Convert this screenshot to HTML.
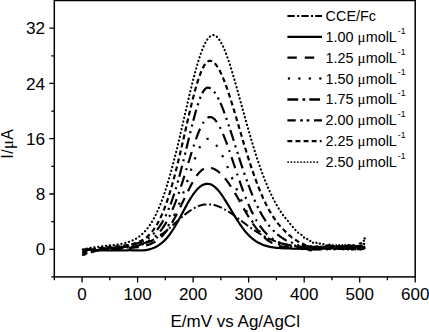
<!DOCTYPE html><html><head><meta charset="utf-8"><style>html,body{margin:0;padding:0;background:#fff}body{width:429px;height:332px;overflow:hidden;position:relative;font-family:"Liberation Sans",sans-serif}</style></head><body>
<svg width="429" height="332" viewBox="0 0 429 332" style="position:absolute;left:0;top:0">
<rect width="429" height="332" fill="#fff"/>
<path d="M82.1 249.6 L83.1 249.5 L84.1 249.4 L85.1 249.3 L86.1 249.3 L87.1 249.2 L88.1 249.2 L89.1 249.1 L90.1 249.1 L91.1 249.0 L92.1 249.0 L93.1 249.0 L94.1 249.0 L95.1 248.9 L96.1 248.9 L97.1 248.9 L98.1 248.9 L99.1 248.8 L100.1 248.8 L101.1 248.8 L102.1 248.8 L103.1 248.8 L104.1 248.8 L105.1 248.7 L106.1 248.7 L107.1 248.7 L108.1 248.7 L109.1 248.6 L110.1 248.6 L111.1 248.6 L112.1 248.5 L113.1 248.5 L114.1 248.5 L115.1 248.4 L116.1 248.4 L117.1 248.3 L118.1 248.2 L119.1 248.2 L120.1 248.1 L121.1 248.0 L122.1 247.9 L123.1 247.9 L124.1 247.8 L125.1 247.7 L126.1 247.6 L127.1 247.5 L128.1 247.3 L129.1 247.2 L130.1 247.1 L131.1 246.9 L132.1 246.8 L133.1 246.6 L134.1 246.5 L135.1 246.3 L136.1 246.1 L137.1 245.8 L138.1 245.6 L139.1 245.4 L140.1 245.1 L141.1 244.8 L142.1 244.5 L143.1 244.2 L144.1 243.9 L145.1 243.5 L146.1 243.2 L147.1 242.8 L148.1 242.3 L149.1 241.9 L150.1 241.4 L151.1 241.0 L152.1 240.5 L153.1 239.9 L154.1 239.4 L155.1 238.8 L156.1 238.2 L157.1 237.6 L158.1 236.9 L159.1 236.3 L160.1 235.6 L161.1 234.9 L162.1 234.1 L163.1 233.4 L164.1 232.6 L165.1 231.8 L166.1 231.0 L167.1 230.2 L168.1 229.3 L169.1 228.5 L170.1 227.6 L171.1 226.7 L172.1 225.8 L173.1 224.9 L174.1 224.0 L175.1 223.1 L176.1 222.2 L177.1 221.3 L178.1 220.4 L179.1 219.5 L180.1 218.6 L181.1 217.8 L182.1 216.9 L183.1 216.0 L184.1 215.2 L185.1 214.4 L186.1 213.6 L187.1 212.8 L188.1 212.1 L189.1 211.3 L190.1 210.7 L191.1 210.0 L192.1 209.4 L193.1 208.7 L194.1 208.2 L195.1 207.6 L196.1 207.1 L197.1 206.7 L198.1 206.3 L199.1 205.9 L200.1 205.5 L201.1 205.2 L202.1 205.0 L203.1 204.8 L204.1 204.6 L205.1 204.5 L206.1 204.4 L207.1 204.3 L208.1 204.3 L209.1 204.3 L210.1 204.4 L211.1 204.5 L212.1 204.6 L213.1 204.8 L214.1 205.0 L215.1 205.3 L216.1 205.6 L217.1 205.9 L218.1 206.3 L219.1 206.6 L220.1 207.1 L221.1 207.5 L222.1 208.0 L223.1 208.5 L224.1 209.0 L225.1 209.6 L226.1 210.1 L227.1 210.7 L228.1 211.4 L229.1 212.0 L230.1 212.7 L231.1 213.3 L232.1 214.0 L233.1 214.7 L234.1 215.4 L235.1 216.2 L236.1 216.9 L237.1 217.6 L238.1 218.4 L239.1 219.1 L240.1 219.9 L241.1 220.6 L242.1 221.4 L243.1 222.2 L244.1 222.9 L245.1 223.7 L246.1 224.4 L247.1 225.2 L248.1 225.9 L249.1 226.6 L250.1 227.3 L251.1 228.1 L252.1 228.8 L253.1 229.4 L254.1 230.1 L255.1 230.8 L256.1 231.4 L257.1 232.1 L258.1 232.7 L259.1 233.3 L260.1 233.9 L261.1 234.5 L262.1 235.1 L263.1 235.6 L264.1 236.2 L265.1 236.7 L266.1 237.2 L267.1 237.7 L268.1 238.2 L269.1 238.6 L270.1 239.1 L271.1 239.5 L272.1 239.9 L273.1 240.3 L274.1 240.7 L275.1 241.1 L276.1 241.4 L277.1 241.8 L278.1 242.1 L279.1 242.4 L280.1 242.7 L281.1 243.0 L282.1 243.3 L283.1 243.5 L284.1 243.8 L285.1 244.0 L286.1 244.3 L287.1 244.4 L288.1 244.7 L289.1 244.9 L290.1 245.1 L291.1 245.2 L292.1 245.6 L293.1 245.6 L294.1 245.7 L295.1 245.5 L296.1 245.7 L297.1 246.3 L298.1 246.1 L299.1 246.3 L300.1 246.5 L301.1 246.7 L302.1 247.1 L303.1 246.9 L304.1 247.8 L305.1 248.0 L306.1 248.2 L307.1 248.2 L308.1 247.6 L309.1 248.2 L310.1 247.5 L311.1 247.4 L312.1 249.0 L313.1 247.3 L314.1 248.5 L315.1 247.5 L316.1 247.6 L317.1 247.4 L318.1 248.7 L319.1 247.7 L320.1 248.6 L321.1 247.9 L322.1 247.2 L323.1 247.5 L324.1 248.0 L325.1 247.0 L326.1 248.4 L327.1 247.1 L328.1 247.3 L329.1 248.0 L330.1 247.6 L331.1 247.3 L332.1 248.3 L333.1 248.2 L334.1 246.6 L335.1 248.3 L336.1 246.6 L337.1 246.6 L338.1 247.2 L339.1 246.7 L340.1 247.8 L341.1 248.2 L342.1 246.7 L343.1 248.1 L344.1 248.5 L345.1 247.1 L346.1 248.6 L347.1 247.9 L348.1 247.4 L349.1 248.1 L350.1 247.1 L351.1 247.2 L352.1 247.4 L353.1 248.1 L354.1 247.9 L355.1 248.2 L356.1 248.0 L357.1 248.1 L358.1 247.3 L359.1 247.6 L360.1 247.9 L361.1 247.2 L362.1 246.9 L363.1 248.1 L364.1 247.0 L365.1 247.6" fill="none" stroke="#000" stroke-width="2.0" stroke-dasharray="8.7 2.8 1.9 2.6" stroke-dashoffset="15.33" stroke-linejoin="round"/>
<path d="M82.1 250.0 L83.1 250.0 L84.1 250.0 L85.1 250.0 L86.1 250.0 L87.1 250.0 L88.1 250.0 L89.1 250.0 L90.1 250.0 L91.1 250.0 L92.1 250.0 L93.1 250.1 L94.1 250.1 L95.1 250.1 L96.1 250.1 L97.1 250.2 L98.1 250.2 L99.1 250.2 L100.1 250.2 L101.1 250.3 L102.1 250.3 L103.1 250.3 L104.1 250.4 L105.1 250.4 L106.1 250.4 L107.1 250.4 L108.1 250.4 L109.1 250.5 L110.1 250.5 L111.1 250.5 L112.1 250.5 L113.1 250.5 L114.1 250.5 L115.1 250.5 L116.1 250.5 L117.1 250.5 L118.1 250.5 L119.1 250.4 L120.1 250.4 L121.1 250.4 L122.1 250.4 L123.1 250.4 L124.1 250.3 L125.1 250.3 L126.1 250.3 L127.1 250.3 L128.1 250.3 L129.1 250.2 L130.1 250.2 L131.1 250.2 L132.1 250.3 L133.1 250.3 L134.1 250.3 L135.1 250.3 L136.1 250.4 L137.1 250.4 L138.1 250.4 L139.1 250.4 L140.1 250.5 L141.1 250.4 L142.1 250.4 L143.1 250.4 L144.1 250.3 L145.1 250.2 L146.1 250.1 L147.1 249.9 L148.1 249.7 L149.1 249.4 L150.1 249.2 L151.1 248.8 L152.1 248.5 L153.1 248.1 L154.1 247.7 L155.1 247.2 L156.1 246.7 L157.1 246.2 L158.1 245.6 L159.1 244.9 L160.1 244.2 L161.1 243.5 L162.1 242.7 L163.1 241.8 L164.1 240.9 L165.1 239.9 L166.1 238.9 L167.1 237.7 L168.1 236.5 L169.1 235.3 L170.1 233.9 L171.1 232.5 L172.1 231.0 L173.1 229.5 L174.1 227.9 L175.1 226.2 L176.1 224.5 L177.1 222.8 L178.1 221.0 L179.1 219.2 L180.1 217.3 L181.1 215.4 L182.1 213.6 L183.1 211.7 L184.1 209.8 L185.1 207.9 L186.1 206.1 L187.1 204.3 L188.1 202.5 L189.1 200.8 L190.1 199.1 L191.1 197.5 L192.1 196.0 L193.1 194.5 L194.1 193.1 L195.1 191.8 L196.1 190.6 L197.1 189.4 L198.1 188.4 L199.1 187.5 L200.1 186.7 L201.1 185.9 L202.1 185.3 L203.1 184.8 L204.1 184.4 L205.1 184.1 L206.1 183.9 L207.1 183.8 L208.1 183.8 L209.1 184.0 L210.1 184.2 L211.1 184.6 L212.1 185.1 L213.1 185.7 L214.1 186.4 L215.1 187.2 L216.1 188.1 L217.1 189.1 L218.1 190.2 L219.1 191.4 L220.1 192.7 L221.1 194.1 L222.1 195.5 L223.1 197.0 L224.1 198.5 L225.1 200.1 L226.1 201.7 L227.1 203.3 L228.1 205.0 L229.1 206.7 L230.1 208.3 L231.1 210.0 L232.1 211.7 L233.1 213.4 L234.1 215.1 L235.1 216.7 L236.1 218.3 L237.1 219.9 L238.1 221.5 L239.1 223.0 L240.1 224.5 L241.1 225.9 L242.1 227.3 L243.1 228.7 L244.1 230.0 L245.1 231.2 L246.1 232.4 L247.1 233.5 L248.1 234.6 L249.1 235.6 L250.1 236.6 L251.1 237.5 L252.1 238.4 L253.1 239.2 L254.1 240.0 L255.1 240.7 L256.1 241.4 L257.1 242.0 L258.1 242.6 L259.1 243.1 L260.1 243.6 L261.1 244.1 L262.1 244.5 L263.1 244.9 L264.1 245.3 L265.1 245.6 L266.1 245.9 L267.1 246.2 L268.1 246.4 L269.1 246.7 L270.1 246.9 L271.1 247.1 L272.1 247.2 L273.1 247.4 L274.1 247.5 L275.1 247.6 L276.1 247.8 L277.1 247.9 L278.1 247.9 L279.1 248.0 L280.1 248.1 L281.1 248.2 L282.1 248.2 L283.1 248.3 L284.1 248.3 L285.1 248.3 L286.1 248.4 L287.1 248.4 L288.1 248.3 L289.1 248.3 L290.1 248.3 L291.1 248.6 L292.1 248.5 L293.1 248.7 L294.1 248.8 L295.1 248.5 L296.1 248.6 L297.1 248.3 L298.1 249.0 L299.1 248.3 L300.1 248.6 L301.1 248.8 L302.1 249.1 L303.1 248.7 L304.1 248.9 L305.1 248.7 L306.1 249.0 L307.1 249.3 L308.1 248.6 L309.1 250.1 L310.1 250.2 L311.1 250.4 L312.1 249.7 L313.1 249.0 L314.1 249.4 L315.1 249.7 L316.1 249.4 L317.1 249.5 L318.1 249.0 L319.1 249.7 L320.1 249.0 L321.1 249.5 L322.1 248.5 L323.1 248.7 L324.1 248.5 L325.1 248.4 L326.1 249.0 L327.1 249.4 L328.1 248.8 L329.1 248.7 L330.1 249.1 L331.1 248.4 L332.1 248.0 L333.1 248.0 L334.1 249.3 L335.1 249.2 L336.1 248.6 L337.1 248.3 L338.1 249.0 L339.1 248.7 L340.1 248.8 L341.1 248.9 L342.1 249.0 L343.1 249.3 L344.1 248.5 L345.1 248.8 L346.1 248.9 L347.1 248.7 L348.1 249.5 L349.1 248.2 L350.1 248.8 L351.1 247.9 L352.1 249.6 L353.1 249.5 L354.1 248.1 L355.1 249.4 L356.1 247.9 L357.1 248.1 L358.1 249.4 L359.1 248.7 L360.1 249.3 L361.1 249.3 L362.1 248.9 L363.1 249.0 L364.1 247.8 L365.1 249.0" fill="none" stroke="#000" stroke-width="2.2" stroke-linejoin="round"/>
<path d="M82.1 252.9 L83.1 252.6 L84.1 252.4 L85.1 252.1 L86.1 251.9 L87.1 251.7 L88.1 251.6 L89.1 251.4 L90.1 251.2 L91.1 251.1 L92.1 250.9 L93.1 250.8 L94.1 250.7 L95.1 250.6 L96.1 250.5 L97.1 250.4 L98.1 250.3 L99.1 250.2 L100.1 250.1 L101.1 250.0 L102.1 249.9 L103.1 249.8 L104.1 249.8 L105.1 249.7 L106.1 249.6 L107.1 249.6 L108.1 249.5 L109.1 249.4 L110.1 249.4 L111.1 249.3 L112.1 249.2 L113.1 249.2 L114.1 249.1 L115.1 249.1 L116.1 249.0 L117.1 248.9 L118.1 248.9 L119.1 248.8 L120.1 248.7 L121.1 248.6 L122.1 248.6 L123.1 248.5 L124.1 248.4 L125.1 248.4 L126.1 248.3 L127.1 248.2 L128.1 248.1 L129.1 248.0 L130.1 248.0 L131.1 247.9 L132.1 247.8 L133.1 247.7 L134.1 247.6 L135.1 247.5 L136.1 247.4 L137.1 247.2 L138.1 247.1 L139.1 247.0 L140.1 246.8 L141.1 246.6 L142.1 246.5 L143.1 246.3 L144.1 246.0 L145.1 245.8 L146.1 245.5 L147.1 245.2 L148.1 244.9 L149.1 244.6 L150.1 244.2 L151.1 243.8 L152.1 243.3 L153.1 242.8 L154.1 242.3 L155.1 241.7 L156.1 241.1 L157.1 240.4 L158.1 239.7 L159.1 238.9 L160.1 238.0 L161.1 237.1 L162.1 236.1 L163.1 235.0 L164.1 233.9 L165.1 232.7 L166.1 231.5 L167.1 230.2 L168.1 228.8 L169.1 227.3 L170.1 225.8 L171.1 224.2 L172.1 222.6 L173.1 220.8 L174.1 219.1 L175.1 217.2 L176.1 215.4 L177.1 213.4 L178.1 211.5 L179.1 209.5 L180.1 207.4 L181.1 205.4 L182.1 203.3 L183.1 201.2 L184.1 199.1 L185.1 197.0 L186.1 194.9 L187.1 192.9 L188.1 190.9 L189.1 188.9 L190.1 186.9 L191.1 185.0 L192.1 183.2 L193.1 181.4 L194.1 179.8 L195.1 178.2 L196.1 176.7 L197.1 175.2 L198.1 173.9 L199.1 172.7 L200.1 171.7 L201.1 170.7 L202.1 169.9 L203.1 169.2 L204.1 168.6 L205.1 168.1 L206.1 167.8 L207.1 167.7 L208.1 167.6 L209.1 167.7 L210.1 167.8 L211.1 168.0 L212.1 168.3 L213.1 168.6 L214.1 169.0 L215.1 169.5 L216.1 170.1 L217.1 170.7 L218.1 171.5 L219.1 172.3 L220.1 173.1 L221.1 174.1 L222.1 175.1 L223.1 176.1 L224.1 177.3 L225.1 178.5 L226.1 179.7 L227.1 181.1 L228.1 182.4 L229.1 183.9 L230.1 185.4 L231.1 186.9 L232.1 188.5 L233.1 190.1 L234.1 191.7 L235.1 193.4 L236.1 195.1 L237.1 196.8 L238.1 198.5 L239.1 200.3 L240.1 202.1 L241.1 203.8 L242.1 205.6 L243.1 207.4 L244.1 209.1 L245.1 210.9 L246.1 212.6 L247.1 214.3 L248.1 216.0 L249.1 217.6 L250.1 219.2 L251.1 220.8 L252.1 222.4 L253.1 223.9 L254.1 225.3 L255.1 226.7 L256.1 228.1 L257.1 229.4 L258.1 230.7 L259.1 231.9 L260.1 233.1 L261.1 234.2 L262.1 235.3 L263.1 236.3 L264.1 237.2 L265.1 238.1 L266.1 239.0 L267.1 239.8 L268.1 240.5 L269.1 241.2 L270.1 241.8 L271.1 242.4 L272.1 243.0 L273.1 243.5 L274.1 244.0 L275.1 244.4 L276.1 244.8 L277.1 245.2 L278.1 245.5 L279.1 245.8 L280.1 246.1 L281.1 246.3 L282.1 246.5 L283.1 246.7 L284.1 246.8 L285.1 247.0 L286.1 247.0 L287.1 247.0 L288.1 247.2 L289.1 247.2 L290.1 247.1 L291.1 247.3 L292.1 247.2 L293.1 246.8 L294.1 247.3 L295.1 247.2 L296.1 247.4 L297.1 246.9 L298.1 247.6 L299.1 247.4 L300.1 247.0 L301.1 247.3 L302.1 246.7 L303.1 247.1 L304.1 247.7 L305.1 247.2 L306.1 247.2 L307.1 248.2 L308.1 248.2 L309.1 247.8 L310.1 247.4 L311.1 248.1 L312.1 248.3 L313.1 246.8 L314.1 246.9 L315.1 246.7 L316.1 246.9 L317.1 247.3 L318.1 247.1 L319.1 246.8 L320.1 247.9 L321.1 246.7 L322.1 247.7 L323.1 246.5 L324.1 247.4 L325.1 246.9 L326.1 247.1 L327.1 247.1 L328.1 246.4 L329.1 246.9 L330.1 246.3 L331.1 247.4 L332.1 246.1 L333.1 247.4 L334.1 246.2 L335.1 247.0 L336.1 245.7 L337.1 246.0 L338.1 246.2 L339.1 247.2 L340.1 247.1 L341.1 246.6 L342.1 247.3 L343.1 247.4 L344.1 246.2 L345.1 246.3 L346.1 245.9 L347.1 246.8 L348.1 245.9 L349.1 247.5 L350.1 246.6 L351.1 246.2 L352.1 247.5 L353.1 247.3 L354.1 246.9 L355.1 247.0 L356.1 246.0 L357.1 246.6 L358.1 246.0 L359.1 246.7 L360.1 245.8 L361.1 246.6 L362.1 246.1 L363.1 246.2 L364.1 247.1 L365.1 246.2" fill="none" stroke="#000" stroke-width="2.2" stroke-dasharray="10.3 7.4" stroke-dashoffset="6.30" stroke-linejoin="round"/>
<path d="M82.1 252.0 L83.1 251.7 L84.1 251.5 L85.1 251.2 L86.1 251.0 L87.1 250.8 L88.1 250.6 L89.1 250.4 L90.1 250.2 L91.1 250.0 L92.1 249.8 L93.1 249.7 L94.1 249.5 L95.1 249.4 L96.1 249.2 L97.1 249.1 L98.1 249.0 L99.1 248.8 L100.1 248.7 L101.1 248.6 L102.1 248.5 L103.1 248.4 L104.1 248.3 L105.1 248.2 L106.1 248.1 L107.1 248.1 L108.1 248.0 L109.1 247.9 L110.1 247.8 L111.1 247.8 L112.1 247.7 L113.1 247.6 L114.1 247.5 L115.1 247.5 L116.1 247.4 L117.1 247.3 L118.1 247.3 L119.1 247.2 L120.1 247.2 L121.1 247.1 L122.1 247.0 L123.1 246.9 L124.1 246.9 L125.1 246.8 L126.1 246.7 L127.1 246.6 L128.1 246.5 L129.1 246.4 L130.1 246.3 L131.1 246.2 L132.1 246.0 L133.1 245.9 L134.1 245.8 L135.1 245.7 L136.1 245.5 L137.1 245.4 L138.1 245.2 L139.1 245.0 L140.1 244.8 L141.1 244.6 L142.1 244.4 L143.1 244.2 L144.1 243.9 L145.1 243.6 L146.1 243.3 L147.1 243.0 L148.1 242.6 L149.1 242.3 L150.1 241.8 L151.1 241.4 L152.1 240.9 L153.1 240.4 L154.1 239.8 L155.1 239.2 L156.1 238.5 L157.1 237.8 L158.1 237.1 L159.1 236.3 L160.1 235.4 L161.1 234.5 L162.1 233.5 L163.1 232.4 L164.1 231.3 L165.1 230.0 L166.1 228.8 L167.1 227.4 L168.1 225.9 L169.1 224.4 L170.1 222.8 L171.1 221.1 L172.1 219.3 L173.1 217.4 L174.1 215.4 L175.1 213.3 L176.1 211.1 L177.1 208.8 L178.1 206.5 L179.1 204.0 L180.1 201.5 L181.1 198.9 L182.1 196.2 L183.1 193.4 L184.1 190.6 L185.1 187.7 L186.1 184.8 L187.1 181.8 L188.1 178.8 L189.1 175.8 L190.1 172.8 L191.1 169.8 L192.1 166.8 L193.1 163.9 L194.1 161.1 L195.1 158.3 L196.1 155.7 L197.1 153.1 L198.1 150.8 L199.1 148.5 L200.1 146.5 L201.1 144.6 L202.1 143.0 L203.1 141.6 L204.1 140.5 L205.1 139.7 L206.1 139.1 L207.1 138.8 L208.1 138.8 L209.1 139.0 L210.1 139.4 L211.1 139.9 L212.1 140.6 L213.1 141.4 L214.1 142.4 L215.1 143.6 L216.1 144.8 L217.1 146.2 L218.1 147.8 L219.1 149.4 L220.1 151.2 L221.1 153.1 L222.1 155.0 L223.1 157.1 L224.1 159.2 L225.1 161.4 L226.1 163.7 L227.1 166.0 L228.1 168.4 L229.1 170.8 L230.1 173.2 L231.1 175.6 L232.1 178.1 L233.1 180.6 L234.1 183.0 L235.1 185.5 L236.1 187.9 L237.1 190.4 L238.1 192.8 L239.1 195.1 L240.1 197.5 L241.1 199.7 L242.1 202.0 L243.1 204.2 L244.1 206.3 L245.1 208.4 L246.1 210.4 L247.1 212.4 L248.1 214.3 L249.1 216.1 L250.1 217.9 L251.1 219.6 L252.1 221.2 L253.1 222.8 L254.1 224.3 L255.1 225.8 L256.1 227.2 L257.1 228.5 L258.1 229.7 L259.1 230.9 L260.1 232.0 L261.1 233.1 L262.1 234.1 L263.1 235.1 L264.1 236.0 L265.1 236.8 L266.1 237.6 L267.1 238.4 L268.1 239.1 L269.1 239.8 L270.1 240.4 L271.1 241.0 L272.1 241.5 L273.1 242.0 L274.1 242.5 L275.1 242.9 L276.1 243.3 L277.1 243.7 L278.1 244.0 L279.1 244.4 L280.1 244.7 L281.1 244.9 L282.1 245.2 L283.1 245.4 L284.1 245.7 L285.1 245.9 L286.1 246.1 L287.1 246.1 L288.1 246.3 L289.1 246.4 L290.1 246.4 L291.1 246.5 L292.1 246.9 L293.1 246.8 L294.1 247.1 L295.1 247.3 L296.1 247.1 L297.1 247.4 L298.1 246.9 L299.1 247.7 L300.1 247.1 L301.1 248.0 L302.1 247.7 L303.1 248.4 L304.1 248.1 L305.1 248.0 L306.1 247.5 L307.1 247.5 L308.1 248.7 L309.1 248.4 L310.1 247.8 L311.1 248.0 L312.1 248.6 L313.1 248.4 L314.1 248.5 L315.1 248.5 L316.1 249.0 L317.1 247.5 L318.1 248.9 L319.1 248.5 L320.1 249.0 L321.1 247.5 L322.1 247.2 L323.1 247.6 L324.1 247.4 L325.1 247.9 L326.1 247.4 L327.1 246.8 L328.1 247.2 L329.1 248.4 L330.1 248.3 L331.1 247.8 L332.1 247.1 L333.1 246.8 L334.1 248.0 L335.1 246.7 L336.1 246.9 L337.1 247.5 L338.1 246.8 L339.1 247.3 L340.1 246.6 L341.1 247.1 L342.1 247.9 L343.1 248.1 L344.1 248.1 L345.1 247.8 L346.1 248.4 L347.1 246.8 L348.1 247.0 L349.1 247.2 L350.1 248.2 L351.1 248.2 L352.1 247.8 L353.1 247.4 L354.1 247.4 L355.1 248.4 L356.1 247.8 L357.1 247.0 L358.1 246.6 L359.1 246.7 L360.1 246.6 L361.1 247.2 L362.1 246.9 L363.1 247.6 L364.1 246.4 L365.1 246.9" fill="none" stroke="#000" stroke-width="2.2" stroke-dasharray="2.3 9.7" stroke-dashoffset="2.76" stroke-linejoin="round"/>
<path d="M82.1 255.6 L83.1 255.1 L84.1 254.7 L85.1 254.3 L86.1 253.9 L87.1 253.5 L88.1 253.2 L89.1 252.8 L90.1 252.5 L91.1 252.2 L92.1 251.9 L93.1 251.6 L94.1 251.4 L95.1 251.1 L96.1 250.9 L97.1 250.6 L98.1 250.4 L99.1 250.2 L100.1 250.0 L101.1 249.8 L102.1 249.7 L103.1 249.5 L104.1 249.3 L105.1 249.2 L106.1 249.0 L107.1 248.9 L108.1 248.7 L109.1 248.6 L110.1 248.5 L111.1 248.4 L112.1 248.2 L113.1 248.1 L114.1 248.0 L115.1 247.9 L116.1 247.8 L117.1 247.7 L118.1 247.6 L119.1 247.5 L120.1 247.4 L121.1 247.3 L122.1 247.2 L123.1 247.1 L124.1 247.0 L125.1 246.9 L126.1 246.8 L127.1 246.7 L128.1 246.6 L129.1 246.5 L130.1 246.3 L131.1 246.2 L132.1 246.0 L133.1 245.9 L134.1 245.7 L135.1 245.5 L136.1 245.3 L137.1 245.1 L138.1 244.9 L139.1 244.6 L140.1 244.4 L141.1 244.1 L142.1 243.8 L143.1 243.5 L144.1 243.1 L145.1 242.7 L146.1 242.3 L147.1 241.8 L148.1 241.4 L149.1 240.8 L150.1 240.2 L151.1 239.6 L152.1 239.0 L153.1 238.2 L154.1 237.5 L155.1 236.6 L156.1 235.7 L157.1 234.8 L158.1 233.7 L159.1 232.6 L160.1 231.4 L161.1 230.2 L162.1 228.9 L163.1 227.4 L164.1 225.9 L165.1 224.3 L166.1 222.7 L167.1 220.9 L168.1 219.0 L169.1 217.1 L170.1 215.0 L171.1 212.8 L172.1 210.6 L173.1 208.2 L174.1 205.8 L175.1 203.2 L176.1 200.6 L177.1 197.9 L178.1 195.1 L179.1 192.2 L180.1 189.2 L181.1 186.2 L182.1 183.1 L183.1 180.0 L184.1 176.8 L185.1 173.6 L186.1 170.3 L187.1 167.0 L188.1 163.7 L189.1 160.5 L190.1 157.2 L191.1 154.0 L192.1 150.8 L193.1 147.7 L194.1 144.6 L195.1 141.7 L196.1 138.8 L197.1 136.1 L198.1 133.4 L199.1 131.0 L200.1 128.7 L201.1 126.5 L202.1 124.6 L203.1 122.8 L204.1 121.3 L205.1 120.0 L206.1 118.9 L207.1 118.1 L208.1 117.5 L209.1 117.1 L210.1 117.0 L211.1 117.2 L212.1 117.5 L213.1 118.1 L214.1 118.9 L215.1 119.9 L216.1 121.1 L217.1 122.5 L218.1 124.0 L219.1 125.7 L220.1 127.6 L221.1 129.7 L222.1 131.8 L223.1 134.2 L224.1 136.6 L225.1 139.1 L226.1 141.7 L227.1 144.4 L228.1 147.2 L229.1 150.1 L230.1 153.0 L231.1 155.9 L232.1 158.9 L233.1 161.9 L234.1 164.8 L235.1 167.8 L236.1 170.8 L237.1 173.8 L238.1 176.7 L239.1 179.6 L240.1 182.5 L241.1 185.3 L242.1 188.1 L243.1 190.8 L244.1 193.5 L245.1 196.1 L246.1 198.6 L247.1 201.1 L248.1 203.5 L249.1 205.8 L250.1 208.0 L251.1 210.2 L252.1 212.2 L253.1 214.2 L254.1 216.2 L255.1 218.0 L256.1 219.8 L257.1 221.4 L258.1 223.1 L259.1 224.6 L260.1 226.0 L261.1 227.4 L262.1 228.8 L263.1 230.0 L264.1 231.2 L265.1 232.3 L266.1 233.4 L267.1 234.4 L268.1 235.3 L269.1 236.2 L270.1 237.0 L271.1 237.8 L272.1 238.5 L273.1 239.2 L274.1 239.8 L275.1 240.4 L276.1 241.0 L277.1 241.5 L278.1 242.0 L279.1 242.5 L280.1 242.9 L281.1 243.3 L282.1 243.6 L283.1 244.0 L284.1 244.3 L285.1 244.6 L286.1 244.8 L287.1 244.9 L288.1 245.1 L289.1 245.2 L290.1 245.5 L291.1 245.3 L292.1 245.4 L293.1 245.4 L294.1 245.5 L295.1 246.0 L296.1 246.2 L297.1 245.9 L298.1 245.9 L299.1 245.9 L300.1 246.3 L301.1 245.7 L302.1 246.2 L303.1 245.9 L304.1 246.8 L305.1 246.6 L306.1 246.8 L307.1 246.2 L308.1 246.2 L309.1 247.2 L310.1 246.6 L311.1 246.7 L312.1 246.1 L313.1 247.2 L314.1 247.2 L315.1 247.2 L316.1 247.2 L317.1 246.2 L318.1 247.1 L319.1 246.5 L320.1 246.4 L321.1 245.4 L322.1 245.6 L323.1 246.5 L324.1 246.9 L325.1 246.5 L326.1 246.4 L327.1 246.3 L328.1 245.2 L329.1 246.0 L330.1 245.5 L331.1 246.4 L332.1 246.0 L333.1 245.6 L334.1 245.6 L335.1 245.0 L336.1 245.2 L337.1 245.8 L338.1 245.2 L339.1 245.4 L340.1 244.8 L341.1 245.3 L342.1 246.4 L343.1 246.1 L344.1 246.0 L345.1 246.1 L346.1 246.1 L347.1 246.1 L348.1 245.2 L349.1 245.6 L350.1 245.5 L351.1 245.6 L352.1 246.3 L353.1 245.2 L354.1 245.3 L355.1 246.5 L356.1 245.8 L357.1 245.4 L358.1 245.8 L359.1 245.1 L360.1 243.3 L361.1 243.4 L362.1 242.5 L363.1 240.9 L364.1 239.3 L365.1 237.4" fill="none" stroke="#000" stroke-width="2.2" stroke-dasharray="11.5 5.8 2 5.5" stroke-dashoffset="15.53" stroke-linejoin="round"/>
<path d="M82.1 255.2 L83.1 254.7 L84.1 254.3 L85.1 253.9 L86.1 253.5 L87.1 253.1 L88.1 252.8 L89.1 252.4 L90.1 252.1 L91.1 251.8 L92.1 251.5 L93.1 251.2 L94.1 251.0 L95.1 250.7 L96.1 250.5 L97.1 250.2 L98.1 250.0 L99.1 249.8 L100.1 249.6 L101.1 249.4 L102.1 249.2 L103.1 249.1 L104.1 248.9 L105.1 248.7 L106.1 248.6 L107.1 248.4 L108.1 248.3 L109.1 248.2 L110.1 248.0 L111.1 247.9 L112.1 247.8 L113.1 247.6 L114.1 247.5 L115.1 247.4 L116.1 247.3 L117.1 247.2 L118.1 247.0 L119.1 246.9 L120.1 246.8 L121.1 246.7 L122.1 246.5 L123.1 246.4 L124.1 246.2 L125.1 246.1 L126.1 245.9 L127.1 245.8 L128.1 245.6 L129.1 245.4 L130.1 245.2 L131.1 244.9 L132.1 244.7 L133.1 244.4 L134.1 244.2 L135.1 243.9 L136.1 243.6 L137.1 243.4 L138.1 243.0 L139.1 242.7 L140.1 242.3 L141.1 241.9 L142.1 241.5 L143.1 241.1 L144.1 240.6 L145.1 240.1 L146.1 239.5 L147.1 238.9 L148.1 238.2 L149.1 237.5 L150.1 236.8 L151.1 236.0 L152.1 235.1 L153.1 234.2 L154.1 233.2 L155.1 232.2 L156.1 231.0 L157.1 229.8 L158.1 228.5 L159.1 227.2 L160.1 225.7 L161.1 224.1 L162.1 222.5 L163.1 220.7 L164.1 218.9 L165.1 216.9 L166.1 214.9 L167.1 212.7 L168.1 210.4 L169.1 208.0 L170.1 205.4 L171.1 202.8 L172.1 200.0 L173.1 197.1 L174.1 194.1 L175.1 191.0 L176.1 187.7 L177.1 184.3 L178.1 180.9 L179.1 177.3 L180.1 173.6 L181.1 169.8 L182.1 166.0 L183.1 162.0 L184.1 158.0 L185.1 154.0 L186.1 149.9 L187.1 145.7 L188.1 141.6 L189.1 137.5 L190.1 133.4 L191.1 129.3 L192.1 125.3 L193.1 121.4 L194.1 117.6 L195.1 113.9 L196.1 110.3 L197.1 107.0 L198.1 103.8 L199.1 100.8 L200.1 98.1 L201.1 95.7 L202.1 93.5 L203.1 91.7 L204.1 90.2 L205.1 89.0 L206.1 88.2 L207.1 87.7 L208.1 87.6 L209.1 87.8 L210.1 88.2 L211.1 88.8 L212.1 89.6 L213.1 90.6 L214.1 91.7 L215.1 93.1 L216.1 94.6 L217.1 96.3 L218.1 98.1 L219.1 100.1 L220.1 102.3 L221.1 104.5 L222.1 106.9 L223.1 109.4 L224.1 112.1 L225.1 114.8 L226.1 117.5 L227.1 120.4 L228.1 123.4 L229.1 126.3 L230.1 129.4 L231.1 132.5 L232.1 135.6 L233.1 138.7 L234.1 141.9 L235.1 145.1 L236.1 148.2 L237.1 151.4 L238.1 154.5 L239.1 157.7 L240.1 160.8 L241.1 163.8 L242.1 166.9 L243.1 169.9 L244.1 172.8 L245.1 175.7 L246.1 178.6 L247.1 181.3 L248.1 184.1 L249.1 186.7 L250.1 189.3 L251.1 191.9 L252.1 194.4 L253.1 196.8 L254.1 199.1 L255.1 201.4 L256.1 203.5 L257.1 205.7 L258.1 207.7 L259.1 209.7 L260.1 211.6 L261.1 213.4 L262.1 215.2 L263.1 216.9 L264.1 218.5 L265.1 220.1 L266.1 221.6 L267.1 223.0 L268.1 224.4 L269.1 225.7 L270.1 226.9 L271.1 228.1 L272.1 229.2 L273.1 230.3 L274.1 231.3 L275.1 232.3 L276.1 233.2 L277.1 234.1 L278.1 235.0 L279.1 235.7 L280.1 236.5 L281.1 237.2 L282.1 237.9 L283.1 238.5 L284.1 239.2 L285.1 239.8 L286.1 240.4 L287.1 240.9 L288.1 241.3 L289.1 241.8 L290.1 242.4 L291.1 242.5 L292.1 242.7 L293.1 243.6 L294.1 243.6 L295.1 244.2 L296.1 244.4 L297.1 244.5 L298.1 245.2 L299.1 245.5 L300.1 244.8 L301.1 245.0 L302.1 246.2 L303.1 245.9 L304.1 245.5 L305.1 247.0 L306.1 246.8 L307.1 247.1 L308.1 246.3 L309.1 247.1 L310.1 246.5 L311.1 247.8 L312.1 247.0 L313.1 247.5 L314.1 247.2 L315.1 248.2 L316.1 248.0 L317.1 247.3 L318.1 248.1 L319.1 247.0 L320.1 247.6 L321.1 246.6 L322.1 246.6 L323.1 246.6 L324.1 247.0 L325.1 246.8 L326.1 246.4 L327.1 247.6 L328.1 246.8 L329.1 246.0 L330.1 247.3 L331.1 246.7 L332.1 246.0 L333.1 246.1 L334.1 246.6 L335.1 247.0 L336.1 246.7 L337.1 247.6 L338.1 246.9 L339.1 247.2 L340.1 246.5 L341.1 246.8 L342.1 246.1 L343.1 246.5 L344.1 246.1 L345.1 247.4 L346.1 247.5 L347.1 246.8 L348.1 247.0 L349.1 247.6 L350.1 247.0 L351.1 247.1 L352.1 247.8 L353.1 247.6 L354.1 246.5 L355.1 246.3 L356.1 246.9 L357.1 246.7 L358.1 247.1 L359.1 247.0 L360.1 247.0 L361.1 246.2 L362.1 246.2 L363.1 247.0 L364.1 247.2 L365.1 247.2" fill="none" stroke="#000" stroke-width="2.2" stroke-dasharray="11.4 4.6 2.2 4.7 2.2 3.8" stroke-dashoffset="5.64" stroke-linejoin="round"/>
<path d="M82.1 252.3 L83.1 252.0 L84.1 251.6 L85.1 251.3 L86.1 251.0 L87.1 250.8 L88.1 250.5 L89.1 250.3 L90.1 250.0 L91.1 249.8 L92.1 249.6 L93.1 249.4 L94.1 249.2 L95.1 249.0 L96.1 248.8 L97.1 248.7 L98.1 248.5 L99.1 248.3 L100.1 248.2 L101.1 248.1 L102.1 247.9 L103.1 247.8 L104.1 247.7 L105.1 247.5 L106.1 247.4 L107.1 247.3 L108.1 247.2 L109.1 247.1 L110.1 247.0 L111.1 246.9 L112.1 246.8 L113.1 246.7 L114.1 246.6 L115.1 246.5 L116.1 246.4 L117.1 246.3 L118.1 246.3 L119.1 246.2 L120.1 246.0 L121.1 245.9 L122.1 245.8 L123.1 245.7 L124.1 245.6 L125.1 245.4 L126.1 245.3 L127.1 245.1 L128.1 245.0 L129.1 244.8 L130.1 244.6 L131.1 244.4 L132.1 244.2 L133.1 243.9 L134.1 243.6 L135.1 243.3 L136.1 243.0 L137.1 242.6 L138.1 242.2 L139.1 241.8 L140.1 241.3 L141.1 240.8 L142.1 240.3 L143.1 239.7 L144.1 239.0 L145.1 238.3 L146.1 237.6 L147.1 236.8 L148.1 235.9 L149.1 234.9 L150.1 233.9 L151.1 232.8 L152.1 231.6 L153.1 230.3 L154.1 228.9 L155.1 227.4 L156.1 225.9 L157.1 224.2 L158.1 222.4 L159.1 220.5 L160.1 218.5 L161.1 216.4 L162.1 214.2 L163.1 211.8 L164.1 209.3 L165.1 206.7 L166.1 204.0 L167.1 201.1 L168.1 198.2 L169.1 195.1 L170.1 191.8 L171.1 188.5 L172.1 185.0 L173.1 181.4 L174.1 177.7 L175.1 173.9 L176.1 170.0 L177.1 166.0 L178.1 162.0 L179.1 157.8 L180.1 153.6 L181.1 149.3 L182.1 144.9 L183.1 140.6 L184.1 136.2 L185.1 131.8 L186.1 127.4 L187.1 123.0 L188.1 118.6 L189.1 114.3 L190.1 110.1 L191.1 105.9 L192.1 101.8 L193.1 97.9 L194.1 94.0 L195.1 90.3 L196.1 86.8 L197.1 83.4 L198.1 80.2 L199.1 77.2 L200.1 74.5 L201.1 71.9 L202.1 69.6 L203.1 67.5 L204.1 65.7 L205.1 64.2 L206.1 63.0 L207.1 62.0 L208.1 61.3 L209.1 60.9 L210.1 60.8 L211.1 61.0 L212.1 61.3 L213.1 61.9 L214.1 62.7 L215.1 63.7 L216.1 64.9 L217.1 66.3 L218.1 67.8 L219.1 69.5 L220.1 71.4 L221.1 73.5 L222.1 75.7 L223.1 78.1 L224.1 80.5 L225.1 83.1 L226.1 85.8 L227.1 88.7 L228.1 91.6 L229.1 94.6 L230.1 97.7 L231.1 100.8 L232.1 104.0 L233.1 107.3 L234.1 110.6 L235.1 113.9 L236.1 117.3 L237.1 120.7 L238.1 124.1 L239.1 127.5 L240.1 130.9 L241.1 134.3 L242.1 137.7 L243.1 141.1 L244.1 144.4 L245.1 147.7 L246.1 151.0 L247.1 154.2 L248.1 157.4 L249.1 160.5 L250.1 163.6 L251.1 166.6 L252.1 169.6 L253.1 172.5 L254.1 175.4 L255.1 178.2 L256.1 180.9 L257.1 183.6 L258.1 186.1 L259.1 188.7 L260.1 191.1 L261.1 193.5 L262.1 195.8 L263.1 198.1 L264.1 200.2 L265.1 202.3 L266.1 204.4 L267.1 206.3 L268.1 208.2 L269.1 210.1 L270.1 211.8 L271.1 213.5 L272.1 215.2 L273.1 216.7 L274.1 218.2 L275.1 219.7 L276.1 221.1 L277.1 222.4 L278.1 223.7 L279.1 224.9 L280.1 226.1 L281.1 227.2 L282.1 228.3 L283.1 229.3 L284.1 230.3 L285.1 231.2 L286.1 232.2 L287.1 233.2 L288.1 234.3 L289.1 235.2 L290.1 235.9 L291.1 236.8 L292.1 237.7 L293.1 238.5 L294.1 239.2 L295.1 239.8 L296.1 240.2 L297.1 240.7 L298.1 241.6 L299.1 242.4 L300.1 242.8 L301.1 243.4 L302.1 243.9 L303.1 243.8 L304.1 244.6 L305.1 244.9 L306.1 245.4 L307.1 245.2 L308.1 245.4 L309.1 246.0 L310.1 247.1 L311.1 246.4 L312.1 246.7 L313.1 248.0 L314.1 247.1 L315.1 247.7 L316.1 247.7 L317.1 247.0 L318.1 247.8 L319.1 247.9 L320.1 248.0 L321.1 247.7 L322.1 248.0 L323.1 247.2 L324.1 248.4 L325.1 247.2 L326.1 247.9 L327.1 248.2 L328.1 247.9 L329.1 248.6 L330.1 247.1 L331.1 248.1 L332.1 247.7 L333.1 247.6 L334.1 247.7 L335.1 248.5 L336.1 247.0 L337.1 247.7 L338.1 247.8 L339.1 247.4 L340.1 248.5 L341.1 248.2 L342.1 247.5 L343.1 248.0 L344.1 248.4 L345.1 247.4 L346.1 247.7 L347.1 248.3 L348.1 248.6 L349.1 247.5 L350.1 247.4 L351.1 248.0 L352.1 248.4 L353.1 248.7 L354.1 248.0 L355.1 248.8 L356.1 247.7 L357.1 247.8 L358.1 247.4 L359.1 247.9 L360.1 247.3 L361.1 246.1 L362.1 246.0 L363.1 245.5 L364.1 243.9 L365.1 244.2" fill="none" stroke="#000" stroke-width="2.2" stroke-dasharray="4.9 3.3" stroke-dashoffset="7.51" stroke-linejoin="round"/>
<path d="M82.1 249.6 L83.1 249.4 L84.1 249.1 L85.1 248.9 L86.1 248.7 L87.1 248.5 L88.1 248.3 L89.1 248.1 L90.1 247.9 L91.1 247.8 L92.1 247.6 L93.1 247.4 L94.1 247.3 L95.1 247.2 L96.1 247.0 L97.1 246.9 L98.1 246.8 L99.1 246.6 L100.1 246.5 L101.1 246.4 L102.1 246.3 L103.1 246.2 L104.1 246.1 L105.1 246.0 L106.1 245.9 L107.1 245.8 L108.1 245.6 L109.1 245.5 L110.1 245.4 L111.1 245.3 L112.1 245.2 L113.1 245.1 L114.1 245.0 L115.1 244.8 L116.1 244.7 L117.1 244.6 L118.1 244.4 L119.1 244.2 L120.1 244.1 L121.1 243.9 L122.1 243.7 L123.1 243.5 L124.1 243.2 L125.1 243.0 L126.1 242.7 L127.1 242.4 L128.1 242.1 L129.1 241.8 L130.1 241.4 L131.1 241.0 L132.1 240.6 L133.1 240.2 L134.1 239.7 L135.1 239.1 L136.1 238.6 L137.1 237.9 L138.1 237.3 L139.1 236.6 L140.1 235.8 L141.1 235.0 L142.1 234.1 L143.1 233.2 L144.1 232.2 L145.1 231.1 L146.1 230.0 L147.1 228.8 L148.1 227.5 L149.1 226.1 L150.1 224.7 L151.1 223.2 L152.1 221.5 L153.1 219.8 L154.1 218.0 L155.1 216.1 L156.1 214.1 L157.1 212.0 L158.1 209.8 L159.1 207.5 L160.1 205.1 L161.1 202.6 L162.1 199.9 L163.1 197.2 L164.1 194.3 L165.1 191.4 L166.1 188.3 L167.1 185.1 L168.1 181.8 L169.1 178.4 L170.1 175.0 L171.1 171.4 L172.1 167.7 L173.1 163.9 L174.1 160.1 L175.1 156.1 L176.1 152.1 L177.1 148.0 L178.1 143.9 L179.1 139.7 L180.1 135.4 L181.1 131.1 L182.1 126.8 L183.1 122.4 L184.1 118.1 L185.1 113.7 L186.1 109.4 L187.1 105.0 L188.1 100.7 L189.1 96.5 L190.1 92.3 L191.1 88.1 L192.1 84.1 L193.1 80.1 L194.1 76.2 L195.1 72.4 L196.1 68.8 L197.1 65.3 L198.1 61.9 L199.1 58.7 L200.1 55.7 L201.1 52.8 L202.1 50.1 L203.1 47.6 L204.1 45.3 L205.1 43.3 L206.1 41.4 L207.1 39.8 L208.1 38.4 L209.1 37.3 L210.1 36.4 L211.1 35.7 L212.1 35.3 L213.1 35.1 L214.1 35.2 L215.1 35.5 L216.1 36.1 L217.1 36.9 L218.1 38.0 L219.1 39.3 L220.1 40.8 L221.1 42.5 L222.1 44.4 L223.1 46.5 L224.1 48.7 L225.1 51.1 L226.1 53.7 L227.1 56.4 L228.1 59.3 L229.1 62.2 L230.1 65.3 L231.1 68.5 L232.1 71.7 L233.1 75.1 L234.1 78.5 L235.1 82.0 L236.1 85.5 L237.1 89.0 L238.1 92.6 L239.1 96.3 L240.1 99.9 L241.1 103.5 L242.1 107.2 L243.1 110.8 L244.1 114.5 L245.1 118.1 L246.1 121.7 L247.1 125.2 L248.1 128.7 L249.1 132.2 L250.1 135.7 L251.1 139.1 L252.1 142.4 L253.1 145.7 L254.1 149.0 L255.1 152.2 L256.1 155.3 L257.1 158.4 L258.1 161.4 L259.1 164.3 L260.1 167.2 L261.1 170.0 L262.1 172.7 L263.1 175.4 L264.1 178.0 L265.1 180.6 L266.1 183.0 L267.1 185.4 L268.1 187.8 L269.1 190.0 L270.1 192.2 L271.1 194.3 L272.1 196.4 L273.1 198.4 L274.1 200.3 L275.1 202.2 L276.1 204.0 L277.1 205.8 L278.1 207.5 L279.1 209.1 L280.1 210.7 L281.1 212.2 L282.1 213.7 L283.1 215.1 L284.1 216.4 L285.1 217.7 L286.1 219.0 L287.1 220.1 L288.1 221.2 L289.1 222.3 L290.1 223.9 L291.1 225.2 L292.1 226.2 L293.1 227.3 L294.1 228.5 L295.1 229.5 L296.1 230.8 L297.1 231.7 L298.1 232.6 L299.1 233.4 L300.1 234.3 L301.1 234.6 L302.1 235.5 L303.1 236.1 L304.1 237.7 L305.1 237.4 L306.1 238.4 L307.1 238.9 L308.1 239.6 L309.1 239.8 L310.1 241.1 L311.1 240.6 L312.1 242.0 L313.1 242.8 L314.1 242.6 L315.1 242.1 L316.1 242.2 L317.1 243.7 L318.1 243.4 L319.1 243.7 L320.1 243.6 L321.1 244.3 L322.1 244.6 L323.1 244.3 L324.1 243.8 L325.1 244.9 L326.1 245.4 L327.1 245.5 L328.1 244.2 L329.1 244.1 L330.1 245.7 L331.1 245.5 L332.1 245.2 L333.1 245.2 L334.1 244.8 L335.1 245.4 L336.1 245.2 L337.1 245.7 L338.1 244.9 L339.1 246.0 L340.1 245.6 L341.1 246.0 L342.1 244.8 L343.1 246.2 L344.1 246.1 L345.1 245.1 L346.1 245.8 L347.1 246.1 L348.1 245.6 L349.1 245.3 L350.1 246.2 L351.1 246.3 L352.1 246.3 L353.1 246.3 L354.1 245.4 L355.1 246.9 L356.1 246.1 L357.1 246.4 L358.1 245.8 L359.1 245.7 L360.1 244.0 L361.1 243.6 L362.1 243.3 L363.1 242.1 L364.1 240.3 L365.1 240.5" fill="none" stroke="#000" stroke-width="2.15" stroke-dasharray="0.3 3.6" stroke-dashoffset="3.19" stroke-linecap="round" stroke-linejoin="round"/>
<rect x="54.3" y="0.5" width="360.9" height="276.4" fill="none" stroke="#000" stroke-width="1.5"/>
<path d="M82.1 276.9 v5.5 M137.6 276.9 v5.5 M193.1 276.9 v5.5 M248.6 276.9 v5.5 M304.2 276.9 v5.5 M359.7 276.9 v5.5 M415.2 276.9 v5.5 M54.3 276.9 v3.3 M109.8 276.9 v3.3 M165.3 276.9 v3.3 M220.9 276.9 v3.3 M276.4 276.9 v3.3 M331.9 276.9 v3.3 M387.4 276.9 v3.3 M54.3 249.3 h-5 M54.3 194.0 h-5 M54.3 138.7 h-5 M54.3 83.4 h-5 M54.3 28.1 h-5 M54.3 276.9 h-3 M54.3 221.6 h-3 M54.3 166.3 h-3 M54.3 111.1 h-3 M54.3 55.8 h-3" stroke="#000" stroke-width="1.3" fill="none"/>
<text x="82.1" y="299.6" font-size="17" text-anchor="middle" font-family="Liberation Sans, sans-serif">0</text>
<text x="137.6" y="299.6" font-size="17" text-anchor="middle" font-family="Liberation Sans, sans-serif">100</text>
<text x="193.1" y="299.6" font-size="17" text-anchor="middle" font-family="Liberation Sans, sans-serif">200</text>
<text x="248.6" y="299.6" font-size="17" text-anchor="middle" font-family="Liberation Sans, sans-serif">300</text>
<text x="304.2" y="299.6" font-size="17" text-anchor="middle" font-family="Liberation Sans, sans-serif">400</text>
<text x="359.7" y="299.6" font-size="17" text-anchor="middle" font-family="Liberation Sans, sans-serif">500</text>
<text x="415.2" y="299.6" font-size="17" text-anchor="middle" font-family="Liberation Sans, sans-serif">600</text>
<text x="45.2" y="255.4" font-size="17.2" text-anchor="end" font-family="Liberation Sans, sans-serif">0</text>
<text x="45.2" y="200.1" font-size="17.2" text-anchor="end" font-family="Liberation Sans, sans-serif">8</text>
<text x="45.2" y="144.8" font-size="17.2" text-anchor="end" font-family="Liberation Sans, sans-serif">16</text>
<text x="45.2" y="89.5" font-size="17.2" text-anchor="end" font-family="Liberation Sans, sans-serif">24</text>
<text x="45.2" y="34.2" font-size="17.2" text-anchor="end" font-family="Liberation Sans, sans-serif">32</text>
<text x="235.2" y="326.8" font-size="17" text-anchor="middle" font-family="Liberation Sans, sans-serif">E/mV vs Ag/AgCl</text>
<text transform="translate(12.8 143.8) rotate(-90)" font-size="15.7" letter-spacing="0.4" text-anchor="middle" font-family="Liberation Sans, sans-serif">I/<tspan font-family="Liberation Serif, serif" font-size="16.5">μ</tspan>A</text>
<path d="M287.4 16.0 H322.0" stroke="#000" stroke-width="2.2" stroke-dasharray="7.4 2.2 2.2 2.1" stroke-linecap="butt" fill="none"/>
<text x="325.6" y="20.9" font-size="14.4" font-family="Liberation Sans, sans-serif">CCE/Fc</text>
<path d="M287.4 36.9 H322.0" stroke="#000" stroke-width="2.3" stroke-linecap="butt" fill="none"/>
<text x="325.6" y="41.8" font-size="14.4" font-family="Liberation Sans, sans-serif">1.00 <tspan font-family="Liberation Serif, serif" font-size="15">μ</tspan>molL<tspan font-size="8.8" dy="-8.1" dx="0.9">-1</tspan></text>
<path d="M287.4 57.7 H322.0" stroke="#000" stroke-width="2.3" stroke-dasharray="9.4 8" stroke-linecap="butt" fill="none"/>
<text x="325.6" y="62.6" font-size="14.4" font-family="Liberation Sans, sans-serif">1.25 <tspan font-family="Liberation Serif, serif" font-size="15">μ</tspan>molL<tspan font-size="8.8" dy="-8.1" dx="0.9">-1</tspan></text>
<path d="M288.95 78.6 H321.5" stroke="#000" stroke-width="2.5" stroke-dasharray="0.01 10.45" stroke-linecap="round" fill="none"/>
<text x="325.6" y="83.5" font-size="14.4" font-family="Liberation Sans, sans-serif">1.50 <tspan font-family="Liberation Serif, serif" font-size="15">μ</tspan>molL<tspan font-size="8.8" dy="-8.1" dx="0.9">-1</tspan></text>
<path d="M287.4 99.5 H322.0" stroke="#000" stroke-width="2.3" stroke-dasharray="10.8 4.3 2.7 4.1" stroke-linecap="butt" fill="none"/>
<text x="325.6" y="104.4" font-size="14.4" font-family="Liberation Sans, sans-serif">1.75 <tspan font-family="Liberation Serif, serif" font-size="15">μ</tspan>molL<tspan font-size="8.8" dy="-8.1" dx="0.9">-1</tspan></text>
<path d="M287.4 120.4 H322.0" stroke="#000" stroke-width="2.3" stroke-dasharray="8.3 4.5 2.7 3.7 2.7 4.7" stroke-linecap="butt" fill="none"/>
<text x="325.6" y="125.3" font-size="14.4" font-family="Liberation Sans, sans-serif">2.00 <tspan font-family="Liberation Serif, serif" font-size="15">μ</tspan>molL<tspan font-size="8.8" dy="-8.1" dx="0.9">-1</tspan></text>
<path d="M287.4 141.2 H321.6" stroke="#000" stroke-width="2.3" stroke-dasharray="4.9 3.2" stroke-linecap="butt" fill="none"/>
<text x="325.6" y="146.1" font-size="14.4" font-family="Liberation Sans, sans-serif">2.25 <tspan font-family="Liberation Serif, serif" font-size="15">μ</tspan>molL<tspan font-size="8.8" dy="-8.1" dx="0.9">-1</tspan></text>
<path d="M288.1 162.1 H317.4" stroke="#000" stroke-width="1.9" stroke-dasharray="0.01 3.23" stroke-linecap="round" fill="none"/>
<text x="325.6" y="167.0" font-size="14.4" font-family="Liberation Sans, sans-serif">2.50 <tspan font-family="Liberation Serif, serif" font-size="15">μ</tspan>molL<tspan font-size="8.8" dy="-8.1" dx="0.9">-1</tspan></text>
</svg>
</body></html>
